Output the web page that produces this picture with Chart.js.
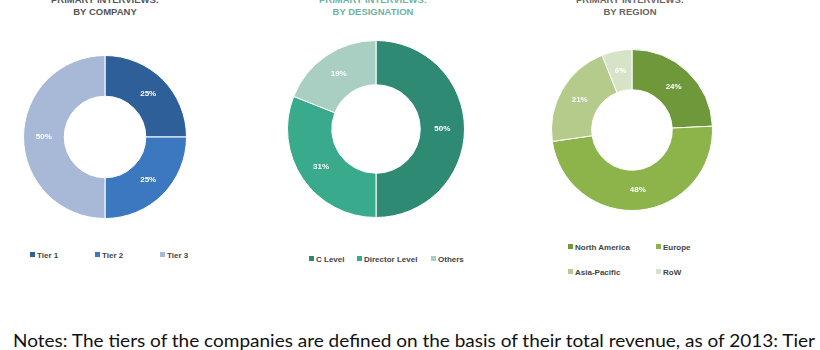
<!DOCTYPE html>
<html>
<head>
<meta charset="utf-8">
<script src="https://cdn.jsdelivr.net/npm/chart.js@4"></script>
<style>
  html, body { margin: 0; padding: 0; background: #fff; }
  body { width: 820px; height: 350px; position: relative; overflow: hidden; font-family: Arial, "Liberation Sans", sans-serif; }
  .box { position: absolute; }
  .title { position: absolute; width: 240px; text-align: center; font: bold 9.5px Arial, "Liberation Sans", sans-serif; line-height: 12px; }
  .legend { position: absolute; font: bold 8px Arial, "Liberation Sans", sans-serif; color: #444; white-space: nowrap; }
  .legend span.sw { display: inline-block; width: 5px; height: 5px; margin-right: 2px; vertical-align: 1px; }
  .legend .it { position: absolute; }
  #notes { position: absolute; left: 13px; top: 330px; font: 17px Lato, "Open Sans", Arial, sans-serif; color: #111; white-space: nowrap; transform-origin: 0 0; }
</style>
</head>
<body>

<div class="title" style="left:-15px; top:-6px; color:#555;">PRIMARY INTERVIEWS:<br>BY COMPANY</div>
<div class="title" style="left:253px; top:-6px; color:#6bb3a2;">PRIMARY INTERVIEWS:<br>BY DESIGNATION</div>
<div class="title" style="left:510px; top:-6px; color:#666;">PRIMARY INTERVIEWS:<br>BY REGION</div>

<div class="box" style="left:23px; top:55px; width:164px; height:164px;"><canvas id="company"></canvas></div>
<div class="box" style="left:287px; top:40px; width:178px; height:178px;"><canvas id="designation"></canvas></div>
<div class="box" style="left:551px; top:49px; width:162px; height:162px;"><canvas id="region"></canvas></div>

<div class="legend" id="legend-company" style="left:0; top:0;"></div>
<div class="legend" id="legend-designation" style="left:0; top:0;"></div>
<div class="legend" id="legend-region" style="left:0; top:0;"></div>

<div id="notes">Notes: The tiers of the companies are defined on the basis of their total revenue, as of 2013: Tier</div>

<script>
const companyLabels = ['Tier 1', 'Tier 2', 'Tier 3'];
const companyValues = [25, 25, 50];
const companyColors = ['#2f5f98', '#3b78bf', '#a8b9d8'];

const designationLabels = ['C Level', 'Director Level', 'Others'];
const designationValues = [50, 31, 19];
const designationColors = ['#2f8a74', '#3aaa8d', '#a9cfc2'];

const regionLabels = ['North America', 'Europe', 'Asia-Pacific', 'RoW'];
const regionValues = [24, 48, 21, 6];
const regionColors = ['#6e983a', '#8cb44b', '#b5cb8b', '#d7e3c6'];

const sliceLabels = {
    id: 'sliceLabels',
    afterDatasetsDraw(chart) {
        const ctx = chart.ctx;
        const ds = chart.data.datasets[0];
        chart.getDatasetMeta(0).data.forEach((arc, i) => {
            const p = arc.tooltipPosition();
            ctx.save();
            ctx.fillStyle = '#fff';
            ctx.font = 'bold 8px Arial, "Liberation Sans", sans-serif';
            ctx.textAlign = 'center';
            ctx.textBaseline = 'middle';
            ctx.fillText(ds.data[i] + '%', p.x, p.y);
            ctx.restore();
        });
    }
};

function drawDonut(id, labels, values, colors) {
    new Chart(document.getElementById(id), {
        type: 'doughnut',
        data: {
            labels: labels,
            datasets: [{
                data: values,
                backgroundColor: colors,
                borderColor: '#ffffff',
                borderWidth: 1,
            }]
        },
        options: {
            responsive: true,
            maintainAspectRatio: false,
            animation: false,
            cutout: '50%',
            layout: { padding: 0 },
            plugins: {
                legend: { display: false },
                tooltip: { enabled: false },
            }
        },
        plugins: [sliceLabels]
    });
}

function drawLegend(id, labels, colors, positions) {
    const el = document.getElementById(id);
    labels.forEach((l, i) => {
        const it = document.createElement('div');
        it.className = 'it';
        it.style.left = positions[i][0] + 'px';
        it.style.top = positions[i][1] + 'px';
        it.innerHTML = `<span class="sw" style="background:${colors[i]}"></span>${l}`;
        el.appendChild(it);
    });
}

drawDonut('company', companyLabels, companyValues, companyColors);
drawDonut('designation', designationLabels, designationValues, designationColors);
drawDonut('region', regionLabels, regionValues, regionColors);

drawLegend('legend-company', companyLabels, companyColors, [[30, 251], [95, 251], [160, 251]]);
drawLegend('legend-designation', designationLabels, designationColors, [[309, 255], [357, 255], [431, 255]]);
drawLegend('legend-region', regionLabels, regionColors, [[568, 243], [656, 243], [568, 268], [656, 268]]);

// stretch the note line to the width it takes in the reference
const notes = document.getElementById('notes');
const w = notes.getBoundingClientRect().width;
notes.style.transform = `scaleX(${802 / w})`;
</script>
</body>
</html>
